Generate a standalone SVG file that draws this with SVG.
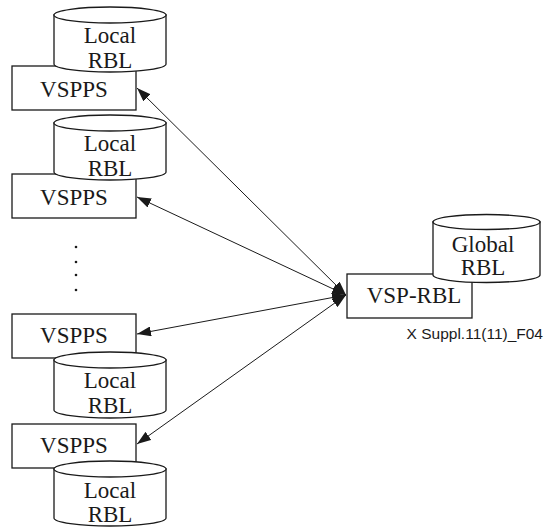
<svg xmlns="http://www.w3.org/2000/svg" width="544" height="529" viewBox="0 0 544 529">
  <style>
    .shape { fill: #fff; stroke: #1a1a1a; stroke-width: 1.3; }
    .lbl { font-family: "Liberation Serif", "Times New Roman", serif; font-size: 23px; fill: #1a1a1a; text-anchor: middle; }
    .link { stroke: #1a1a1a; stroke-width: 1; fill: none; marker-start: url(#head); marker-end: url(#head); }
    .note { font-family: "Liberation Sans", Arial, sans-serif; font-size: 15.5px; fill: #1a1a1a; text-anchor: end; }
  </style>
  <defs>
    <marker id="head" viewBox="0 0 14 10" refX="14" refY="5" markerWidth="14" markerHeight="10" markerUnits="userSpaceOnUse" orient="auto-start-reverse">
      <path d="M0,0 L14,5 L0,10 Z" fill="#1a1a1a"/>
    </marker>
  </defs>

  <!-- Station 1 -->
  <g id="station1">
    <rect class="shape" x="12" y="66" width="124" height="44"/>
    <text class="lbl" x="74" y="97">VSPPS</text>
    <path class="shape" d="M54,15 L54,64 A56,8 0 0 0 166,64 L166,15 Z"/>
    <ellipse class="shape" cx="110" cy="15" rx="56" ry="8"/>
    <text class="lbl" x="110" y="43">Local</text>
    <text class="lbl" x="110" y="68">RBL</text>
  </g>

  <!-- Station 2 -->
  <g id="station2">
    <rect class="shape" x="12" y="174" width="124" height="44"/>
    <text class="lbl" x="74" y="205">VSPPS</text>
    <path class="shape" d="M54,123 L54,172 A56,8 0 0 0 166,172 L166,123 Z"/>
    <ellipse class="shape" cx="110" cy="123" rx="56" ry="8"/>
    <text class="lbl" x="110" y="151">Local</text>
    <text class="lbl" x="110" y="176">RBL</text>
  </g>

  <!-- Ellipsis dots -->
  <g id="dots" fill="#1a1a1a">
    <circle cx="76" cy="247" r="1.3"/>
    <circle cx="76" cy="262" r="1.3"/>
    <circle cx="76" cy="275" r="1.3"/>
    <circle cx="76" cy="290" r="1.3"/>
  </g>

  <!-- Station 3 -->
  <g id="station3">
    <rect class="shape" x="12" y="314" width="124" height="44"/>
    <text class="lbl" x="74" y="343">VSPPS</text>
    <path class="shape" d="M54,360 L54,410 A56,8 0 0 0 166,410 L166,360 Z"/>
    <ellipse class="shape" cx="110" cy="360" rx="56" ry="8"/>
    <text class="lbl" x="110" y="388">Local</text>
    <text class="lbl" x="110" y="413">RBL</text>
  </g>

  <!-- Station 4 -->
  <g id="station4">
    <rect class="shape" x="12" y="424" width="124" height="44"/>
    <text class="lbl" x="74" y="453">VSPPS</text>
    <path class="shape" d="M54,469 L54,518 A56,8 0 0 0 166,518 L166,469 Z"/>
    <ellipse class="shape" cx="110" cy="469" rx="56" ry="8"/>
    <text class="lbl" x="110" y="498">Local</text>
    <text class="lbl" x="110" y="522">RBL</text>
  </g>

  <!-- Central server -->
  <g id="server">
    <rect class="shape" x="347" y="274" width="125" height="44"/>
    <text class="lbl" x="414" y="303">VSP-RBL</text>
    <path class="shape" d="M433,222 L433,275 A53.5,7.5 0 0 0 540,275 L540,222 Z"/>
    <ellipse class="shape" cx="486.5" cy="222" rx="53.5" ry="7.5"/>
    <text class="lbl" x="483" y="252">Global</text>
    <text class="lbl" x="483" y="275">RBL</text>
  </g>

  <!-- Links -->
  <g id="connectors">
    <line class="link" x1="137" y1="88" x2="346" y2="295"/>
    <line class="link" x1="137" y1="197" x2="346" y2="295"/>
    <line class="link" x1="137" y1="334" x2="346" y2="295"/>
    <line class="link" x1="137" y1="444" x2="346" y2="295"/>
  </g>

  <text class="note" x="543" y="339">X Suppl.11(11)_F04</text>
</svg>
